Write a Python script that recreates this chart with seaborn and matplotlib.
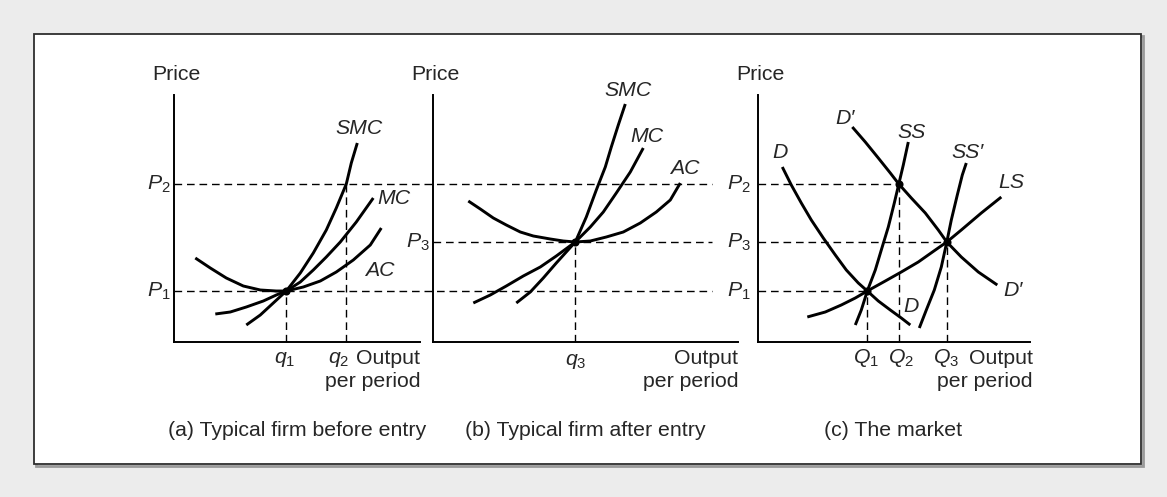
import matplotlib
matplotlib.use("Agg")
import matplotlib.pyplot as plt
from matplotlib.patches import Rectangle
import seaborn as sns

sns.set_style("white")
plt.rcParams["font.family"] = ["Liberation Sans", "DejaVu Sans"]
plt.rcParams["mathtext.fontset"] = "custom"
plt.rcParams["mathtext.rm"] = "Liberation Sans"
plt.rcParams["mathtext.it"] = "Liberation Sans:italic"

# ---- price levels and quantities ----
P1, P3, P2 = 5.1, 10.0, 15.8
q1, q2 = 11.2, 17.2
q3 = 14.2
Q1, Q2, Q3 = 10.9, 14.05, 18.85

# ---- (a) typical firm before entry ----
smc_a_x = [7.2, 8.6, 9.9, 11.2, 12.6, 13.9, 15.2, 16.2, 17.2, 17.7, 18.3]
smc_a_y = [1.7, 2.7, 3.9, 5.1, 6.9, 8.9, 11.2, 13.4, 15.8, 17.9, 19.9]
mc_a_x = [4.1, 5.6, 7.2, 8.9, 10.2, 11.2, 12.6, 13.9, 15.2, 16.6, 18.2, 19.9]
mc_a_y = [2.8, 3.0, 3.5, 4.1, 4.7, 5.1, 6.0, 7.2, 8.5, 10.0, 12.0, 14.4]
ac_a_x = [2.1, 3.6, 5.2, 6.9, 8.6, 10.2, 11.2, 12.9, 14.6, 16.2, 17.9, 19.6, 20.7]
ac_a_y = [8.4, 7.4, 6.4, 5.6, 5.2, 5.1, 5.1, 5.5, 6.1, 7.0, 8.2, 9.7, 11.4]

# ---- (b) typical firm after entry ----
smc_b_x = [8.3, 9.7, 11.0, 12.3, 14.2, 15.3, 16.3, 17.2, 17.8, 18.5, 19.2]
smc_b_y = [3.9, 5.0, 6.4, 7.9, 10.0, 12.5, 15.2, 17.5, 19.5, 21.7, 23.8]
mc_b_x = [4.0, 5.7, 7.3, 9.0, 10.7, 12.3, 14.2, 15.7, 17.0, 18.3, 19.7, 21.0]
mc_b_y = [3.9, 4.7, 5.6, 6.6, 7.5, 8.6, 10.0, 11.5, 13.0, 14.9, 17.0, 19.4]
ac_b_x = [3.5, 4.7, 6.0, 7.3, 8.7, 10.0, 11.7, 13.0, 14.2, 15.7, 17.3, 19.0, 20.7, 22.3, 23.7, 24.7]
ac_b_y = [14.1, 13.3, 12.4, 11.7, 11.0, 10.6, 10.3, 10.1, 10.0, 10.1, 10.5, 11.0, 11.9, 13.0, 14.2, 15.9]

# ---- (c) the market ----
d_x = [2.4, 3.3, 4.3, 5.3, 6.5, 7.7, 8.8, 10.0, 10.9, 12.0, 13.2, 14.3, 15.2]
d_y = [17.5, 15.7, 13.9, 12.2, 10.4, 8.7, 7.2, 5.9, 5.1, 4.1, 3.2, 2.4, 1.7]
dp_x = [9.4, 10.7, 12.0, 13.2, 14.05, 15.3, 16.7, 18.0, 18.85, 20.3, 22.0, 23.9]
dp_y = [21.5, 20.0, 18.4, 16.9, 15.8, 14.4, 12.9, 11.2, 10.0, 8.5, 7.0, 5.7]
ss_x = [9.7, 10.3, 10.9, 11.7, 12.3, 13.0, 13.6, 14.05, 14.5, 15.0]
ss_y = [1.7, 3.2, 5.1, 7.2, 9.2, 11.5, 13.9, 15.8, 17.7, 20.0]
ssp_x = [16.1, 16.8, 17.6, 18.3, 18.85, 19.3, 19.9, 20.4, 20.8]
ssp_y = [1.4, 3.2, 5.2, 7.5, 10.0, 12.2, 14.7, 16.7, 17.9]
ls_x = [4.9, 6.7, 8.3, 9.7, 10.9, 12.7, 14.3, 16.0, 17.7, 18.85, 20.3, 22.3, 24.3]
ls_y = [2.5, 3.0, 3.7, 4.4, 5.1, 6.1, 7.0, 8.0, 9.2, 10.0, 11.2, 12.9, 14.5]

captions = ["(a) Typical firm before entry", "(b) Typical firm after entry", "(c) The market"]

W, H = 1167, 497
FS = 15.3
DASH = (0, (5.5, 3.5))

fig = plt.figure(figsize=(W / 100, H / 100), dpi=100)
fig.patch.set_facecolor("#ececec")

# white framed panel behind the three diagrams
fig.patches.append(Rectangle((35.5 / W, 1 - 465.5 / H), 1107 / W, 430 / H,
                             transform=fig.transFigure, facecolor="none",
                             edgecolor="#9a9a9a", lw=2.0, zorder=-3))
fig.patches.append(Rectangle((34 / W, 1 - 464 / H), 1107 / W, 430 / H,
                             transform=fig.transFigure, facecolor="white",
                             edgecolor="#2e2e2e", lw=1.3, zorder=-2))


def make_axes(left_px, width_px):
    ax = fig.add_axes([left_px / W, 1 - 342 / H, width_px / W, 247 / H])
    ax.set_xlim(0, width_px / 10)
    ax.set_ylim(0, 24.7)
    ax.set_facecolor("none")
    sns.despine(ax=ax)
    for s in ("left", "bottom"):
        ax.spines[s].set_linewidth(1.4)
        ax.spines[s].set_color("black")
    ax.set_xticks([])
    ax.set_yticks([])
    return ax


def curve(ax, xs, ys):
    sns.lineplot(x=xs, y=ys, ax=ax, color="black", lw=2.1, sort=False,
                 estimator=None, solid_capstyle="butt", solid_joinstyle="round")


def hdash(ax, y, x0, x1):
    ax.plot([x0, x1], [y, y], color="black", lw=1.0, ls=DASH, clip_on=False)


def vdash(ax, x, y1):
    ax.plot([x, x], [0, y1], color="black", lw=1.0, ls=DASH, clip_on=False)


def dots(ax, xs, ys):
    sns.scatterplot(x=xs, y=ys, ax=ax, color="black", s=34, edgecolor="black",
                    linewidth=0, zorder=5)


def label(ax, x, y, s, **kw):
    kw.setdefault("ha", "center")
    kw.setdefault("va", "center")
    ax.text(x, y, s, fontsize=FS, clip_on=False, **kw)


def axis_text(ax, right):
    label(ax, 0.2, 26.7, "Price")
    label(ax, right, -1.6, "Output", ha="right")
    label(ax, right, -3.95, "per period", ha="right")


# ---------- panel (a) ----------
ax_a = make_axes(174.3, 246)
hdash(ax_a, P2, 0, 53.8)
hdash(ax_a, P1, 0, 53.8)
vdash(ax_a, q1, P1)
vdash(ax_a, q2, P2)
curve(ax_a, smc_a_x, smc_a_y)
curve(ax_a, mc_a_x, mc_a_y)
curve(ax_a, ac_a_x, ac_a_y)
dots(ax_a, [q1], [P1])
axis_text(ax_a, 24.6)
label(ax_a, -0.35, P2, "$P_2$", ha="right")
label(ax_a, -0.35, P1, "$P_1$", ha="right")
label(ax_a, q1 - 0.2, -1.75, "$q_1$")
label(ax_a, 16.4, -1.75, "$q_2$")
label(ax_a, 18.5, 21.3, "SMC", style="italic")
label(ax_a, 22.0, 14.3, "MC", style="italic")
label(ax_a, 20.5, 7.2, "AC", style="italic")

# ---------- panel (b) ----------
ax_b = make_axes(433.3, 305)
hdash(ax_b, P3, 0, 27.9)
vdash(ax_b, q3, P3)
curve(ax_b, smc_b_x, smc_b_y)
curve(ax_b, mc_b_x, mc_b_y)
curve(ax_b, ac_b_x, ac_b_y)
dots(ax_b, [q3], [P3])
axis_text(ax_b, 30.5)
label(ax_b, -0.35, P3, "$P_3$", ha="right")
label(ax_b, q3, -1.95, "$q_3$")
label(ax_b, 19.5, 25.1, "SMC", style="italic")
label(ax_b, 21.4, 20.6, "MC", style="italic")
label(ax_b, 25.1, 17.4, "AC", style="italic")

# ---------- panel (c) ----------
ax_c = make_axes(758.3, 272)
hdash(ax_c, P2, 0, Q2)
hdash(ax_c, P3, 0, Q3)
hdash(ax_c, P1, 0, Q1)
vdash(ax_c, Q1, P1)
vdash(ax_c, Q2, P2)
vdash(ax_c, Q3, P3)
curve(ax_c, d_x, d_y)
curve(ax_c, dp_x, dp_y)
curve(ax_c, ss_x, ss_y)
curve(ax_c, ssp_x, ssp_y)
curve(ax_c, ls_x, ls_y)
dots(ax_c, [Q1, Q2, Q3], [P1, P2, P3])
axis_text(ax_c, 27.45)
label(ax_c, -0.75, P2, "$P_2$", ha="right")
label(ax_c, -0.75, P3, "$P_3$", ha="right")
label(ax_c, -0.75, P1, "$P_1$", ha="right")
label(ax_c, Q1 - 0.1, -1.6, "$Q_1$")
label(ax_c, Q2 + 0.2, -1.6, "$Q_2$")
label(ax_c, Q3 - 0.1, -1.6, "$Q_3$")
label(ax_c, 8.7, 22.4, "D\u2032", style="italic")
label(ax_c, 15.3, 21.0, "SS", style="italic")
label(ax_c, 2.2, 18.9, "D", style="italic")
label(ax_c, 20.9, 19.0, "SS\u2032", style="italic")
label(ax_c, 25.3, 15.9, "LS", style="italic")
label(ax_c, 25.5, 5.2, "D\u2032", style="italic")
label(ax_c, 15.3, 3.5, "D", style="italic")

# captions under the diagrams
for cx, text in zip([296.6, 585, 893], captions):
    fig.text(cx / W, 1 - 431 / H, text, fontsize=FS, ha="center", va="center")

fig.savefig("out.png", dpi=100, facecolor=fig.get_facecolor())
